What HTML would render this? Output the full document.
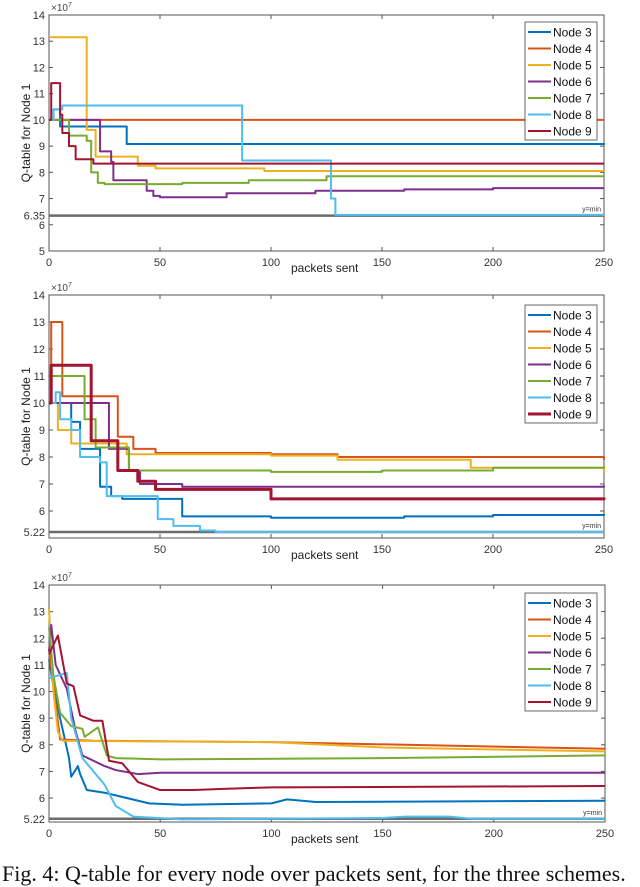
<!DOCTYPE html>
<html><head><meta charset="utf-8">
<style>
html,body{margin:0;padding:0;background:#fff;}
body{width:640px;height:878px;overflow:hidden;position:relative;font-family:"Liberation Sans",sans-serif;}
svg{position:absolute;left:0;top:0;}
#cap{position:absolute;left:2px;top:861px;font-family:"Liberation Serif",serif;font-size:22px;white-space:nowrap;color:#111;}
</style></head>
<body>
<svg id="fig" width="640" height="878"></svg>
<div id="cap">Fig. 4: Q-table for every node over packets sent, for the three schemes.</div>
<script>
// ---------- data ----------
const nodeNames = ["Node 3","Node 4","Node 5","Node 6","Node 7","Node 8","Node 9"];
const xTicks = [0,50,100,150,200,250];
// Chart 1 (step)
const c1x3=[0,2,5,35,250], c1y3=[10,10.4,9.75,9.08,9.05];
const c1x4=[0,250], c1y4=[10,10];
const c1x5=[0,17,21,40,48,97,250], c1y5=[13.15,9.62,8.6,8.25,8.15,8.05,8.05];
const c1x6=[0,23,28,29,44,47,50,80,120,160,200,250], c1y6=[10,8.8,8.4,7.7,7.3,7.1,7.05,7.2,7.3,7.35,7.4,7.4];
const c1x7=[0,9,17,19,22,25,60,90,125,250], c1y7=[10,9.4,9.2,8.0,7.6,7.55,7.6,7.7,7.85,7.85];
const c1x8=[0,2,6,87,127,129,250], c1y8=[10,10.4,10.55,8.45,7.0,6.38,6.38];
const c1x9=[0,1,5,6,9,12,20,250], c1y9=[10,11.4,10.2,9.5,9.0,8.5,8.33,8.33];
// Chart 2 (step)
const c2x3=[0,10,14,23,28,33,60,100,160,200,250], c2y3=[10,9.3,8.3,6.9,6.55,6.45,5.8,5.75,5.8,5.85,5.9];
const c2x4=[0,1,6,31,38,48,100,130,250], c2y4=[10,13,10.25,8.75,8.3,8.15,8.1,8.0,7.9];
const c2x5=[0,4,10,35,100,130,190,250], c2y5=[10,9.0,8.5,8.1,8.05,7.9,7.6,7.45];
const c2x6=[0,27,36,41,60,250], c2y6=[10,8.3,7.5,7.0,6.9,6.95];
const c2x7=[0,1,16,21,36,100,150,200,250], c2y7=[10,11,9.4,8.35,7.5,7.45,7.5,7.6,7.65];
const c2x8=[0,3,5,10,14,23,26,49,56,68,75,250], c2y8=[10,10.4,9.4,9.0,8.0,7.8,6.55,5.7,5.45,5.28,5.22,5.22];
const c2x9=[0,1,19,31,40,48,100,200,250], c2y9=[10,11.4,8.6,7.5,7.1,6.8,6.45,6.45,6.5];
// Chart 3 (linear)
const c3x3=[0,2,5,9,10,13,14,17,25,30,45,60,100,107,120,250], c3y3=[11.2,10.2,9.0,7.5,6.8,7.2,6.9,6.3,6.2,6.1,5.8,5.75,5.8,5.95,5.85,5.9];
const c3x4=[0,5,20,100,250], c3y4=[11.6,8.2,8.15,8.1,7.85];
const c3x5=[0,2,4,6,100,150,250], c3y5=[13.1,10,8.5,8.15,8.1,7.9,7.75];
const c3x6=[0,1,3,8,12,15,25,30,40,50,250], c3y6=[11.5,12.5,11,10.1,8.5,7.6,7.2,7.05,6.9,6.95,6.95];
const c3x7=[0,2,5,10,15,16,22,26,30,50,150,250], c3y7=[12.4,10.6,9.2,8.7,8.6,8.3,8.65,7.6,7.5,7.45,7.5,7.6];
const c3x8=[0,4,8,10,15,25,30,38,60,150,160,180,190,250], c3y8=[10.5,10.6,10.7,9.0,7.5,6.5,5.7,5.3,5.2,5.25,5.3,5.3,5.22,5.22];
const c3x9=[0,4,8,11,14,20,24,27,33,40,50,65,80,100,250], c3y9=[11.4,12.1,10.3,10.2,9.1,8.9,8.9,7.4,7.3,6.6,6.3,6.3,6.35,6.4,6.45];
// y tick labels / mins
const c1YTicks=[5,6,7,8,9,10,11,12,13,14], c1Min=6.35;
const c2YTicks=[6,7,8,9,10,11,12,13,14], c2Min=5.22;
const c3YTicks=[6,7,8,9,10,11,12,13,14], c3Min=5.22;

const colors=["#0072BD","#D95319","#EDB120","#7E2F8E","#77AC30","#4DBEEE","#A2142F"];
const NS="http://www.w3.org/2000/svg";
const svg=document.getElementById('fig');
function mk(tag,attrs,parent){const e=document.createElementNS(NS,tag);for(const k in attrs)e.setAttribute(k,attrs[k]);(parent||svg).appendChild(e);return e;}

function chart(idx,cfg){
  const g=mk('g',{});
  
  
  const L=49,R=cfg.right,T=cfg.top,B=cfg.bottom,y0=cfg.ymin,y1=14;
  const sx=v=>L+(v/250)*(R-L);
  const sy=v=>B-(v-y0)/(y1-y0)*(B-T);
  const box=mk('rect',{x:L,y:T,width:R-L,height:B-T,fill:'none',stroke:'#555','stroke-width':1},g);
  
  
  xTicks.forEach(t=>{
    const x=sx(t);
    mk('line',{x1:x,x2:x,y1:B,y2:B-4,stroke:'#555'},g);
    mk('line',{x1:x,x2:x,y1:T,y2:T+4,stroke:'#555'},g);
    const tx=mk('text',{x:x,y:B+15,'font-size':11,'text-anchor':'middle',fill:'#333'},g);
    tx.textContent=t;
    
    
  });
  cfg.yt.forEach(t=>{
    const y=sy(t);
    mk('line',{x1:L,x2:L+4,y1:y,y2:y,stroke:'#555'},g);
    mk('line',{x1:R,x2:R-4,y1:y,y2:y,stroke:'#555'},g);
    const tx=mk('text',{x:L-4,y:y+4,'font-size':11,'text-anchor':'end',fill:'#333'},g);
    tx.textContent=t;
    
    
  });
  const ml=mk('text',{x:L-4,y:sy(cfg.min)+4,'font-size':11,'text-anchor':'end',fill:'#333'},g);
  ml.textContent=cfg.min.toFixed(2);
  
  
  const e=mk('text',{x:L+2,y:T-4,'font-size':10,fill:'#444'},g);
  e.innerHTML='×10<tspan dy="-4" font-size="7">7</tspan>';
  
  
  const yl=mk('text',{x:0,y:0,'font-size':12,'text-anchor':'middle',fill:'#222',transform:`translate(30,${(T+B)/2}) rotate(-90)`},g);
  yl.textContent='Q-table for Node 1';
  
  
  const xl=mk('text',{x:291,y:B+21,'font-size':12,'text-anchor':'start',fill:'#222'},g);
  xl.textContent='packets sent';
  
  
  const yml=mk('line',{x1:L,x2:R,y1:sy(cfg.min),y2:sy(cfg.min),stroke:'#6b6b6b','stroke-width':2.5},g);
  
  
  const ymt=mk('text',{x:R-3,y:sy(cfg.min)-4,'font-size':7,'text-anchor':'end',fill:'#333'},g);
  ymt.textContent='y=min';
  
  
  cfg.series.forEach((s,i)=>{
    let d='';
    s[0].forEach((xv,j)=>{
      const X=sx(xv),Y=sy(s[1][j]);
      if(j===0)d+='M'+X+','+Y;
      else if(cfg.step)d+='H'+X+'V'+Y;
      else d+='L'+X+','+Y;
    });
    const p=mk('path',{d:d,fill:'none',stroke:colors[i],'stroke-width':(cfg.thick===i?3:2),'stroke-linejoin':'round'},g);
    
    
  });
  const lg=mk('g',{},g);
  
  
  const LX=525,LY=cfg.legTop;
  mk('rect',{x:LX,y:LY,width:72,height:118,fill:'#fff',stroke:'#444','stroke-width':0.8},lg);
  nodeNames.forEach((n,i)=>{
    const y=LY+10+i*16.5;
    const le=mk('g',{},lg);
    
    
    mk('line',{x1:LX+3,x2:LX+26,y1:y,y2:y,stroke:colors[i],'stroke-width':(cfg.thick===i?3:2)},le);
    const t=mk('text',{x:LX+28,y:y+4.5,'font-size':12,fill:'#111'},le);
    t.textContent=n;
  });
}
chart(1,{top:15,bottom:251,right:604,ymin:5,yt:c1YTicks,min:c1Min,step:true,legTop:22,
  series:[[c1x3,c1y3],[c1x4,c1y4],[c1x5,c1y5],[c1x6,c1y6],[c1x7,c1y7],[c1x8,c1y8],[c1x9,c1y9]]});
chart(2,{top:295,bottom:538,right:604,ymin:5,yt:c2YTicks,min:c2Min,step:true,legTop:305,thick:6,
  series:[[c2x3,c2y3],[c2x4,c2y4],[c2x5,c2y5],[c2x6,c2y6],[c2x7,c2y7],[c2x8,c2y8],[c2x9,c2y9]]});
chart(3,{top:585,bottom:822,right:605,ymin:5.1,yt:c3YTicks,min:c3Min,step:false,legTop:593,
  series:[[c3x3,c3y3],[c3x4,c3y4],[c3x5,c3y5],[c3x6,c3y6],[c3x7,c3y7],[c3x8,c3y8],[c3x9,c3y9]]});
</script>
</body></html>
